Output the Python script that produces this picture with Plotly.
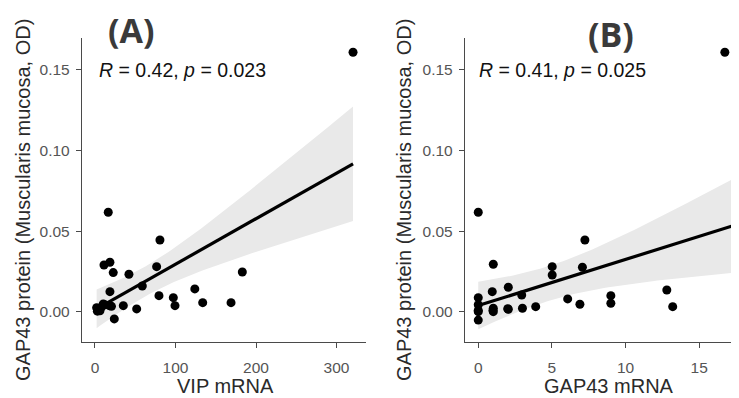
import numpy as np
import plotly.graph_objects as go

# ---- data ----
vip_mrna = [16.5, 80.7, 11.2, 18.6, 22.7, 42.2, 76.6, 183.0, 18.6, 58.8, 124.0, 79.5, 97.3,
            99.4, 133.8, 169.0, 35.2, 51.8, 24.0, 2.1, 6.2, 10.3, 17.8, 320.5,
            4.0, 12.0, 20.5, 8.0, 3.0]
gap43_protein_a = [0.0618, 0.0446, 0.0291, 0.0308, 0.0244, 0.0234, 0.0281, 0.0248, 0.0126, 0.0161,
                   0.0143, 0.0101, 0.0089, 0.0039, 0.0058, 0.0058, 0.0039, 0.0019, -0.0043, 0.0027,
                   0.0008, 0.0050, 0.0039, 0.161,
                   0.0015, 0.0045, 0.0035, 0.0030, 0.0005]

gap43_mrna = [0.0, 7.24, 1.02, 5.02, 5.02, 7.07, 0.95, 2.04, 2.95, 0.0, 6.07, 9.0, 9.0, 12.8,
              13.2, 6.9, 3.9, 3.0, 2.04, 1.02, 1.02, 0.0, 0.0, 0.0, 17.47, 16.74,
              1.0, 0.0, 2.0]
gap43_protein_b = [0.0618, 0.0446, 0.0296, 0.0281, 0.0229, 0.0277, 0.0126, 0.0153, 0.0105, 0.0089,
                   0.0081, 0.0101, 0.0054, 0.0136, 0.0033, 0.0048, 0.0033, 0.0023, 0.0017, 0.0023,
                   0.0002, 0.0002, -0.005, 0.0045, 0.0244, 0.161,
                   0.0010, 0.0010, 0.0020]

label_a = "<i>R</i> = 0.42, <i>p</i> = 0.023"
label_b = "<i>R</i> = 0.41, <i>p</i> = 0.025"
panel_a = "(A)"
panel_b = "(B)"
xtitle_a = "VIP mRNA"
xtitle_b = "GAP43 mRNA"
ytitle = "GAP43 protein (Muscularis mucosa, OD)"
xticks_a = [0, 100, 200, 300]
xticks_b = [0, 5, 10, 15]
yticks = [0.0, 0.05, 0.10, 0.15]


def t_quant(df):
    z = 1.959964
    return z + (z**3 + z) / (4 * df) + (5 * z**5 + 16 * z**3 + 3 * z) / (96 * df**2)


def lm_band(x, y, xmin, xmax):
    x = np.asarray(x, float)
    y = np.asarray(y, float)
    n = len(x)
    b1, b0 = np.polyfit(x, y, 1)
    res = y - (b0 + b1 * x)
    s = np.sqrt(np.sum(res**2) / (n - 2))
    xs = np.linspace(xmin, xmax, 80)
    fit = b0 + b1 * xs
    se = s * np.sqrt(1 / n + (xs - x.mean())**2 / np.sum((x - x.mean())**2))
    t = t_quant(n - 2)
    return xs, fit, fit - t * se, fit + t * se


# the page body has an 8px margin; lay out in page pixels and convert
OFF = 8
W, H = 739 - OFF, 398 - OFF


def fx(p):
    return (p - OFF) / W


def fy(p):
    return 1 - (p - OFF) / H


fig = go.Figure()

ribbon = "rgb(233,233,233)"
for xs_data, ys_data, xa, ya in [(vip_mrna, gap43_protein_a, "x", "y"),
                                 (gap43_mrna, gap43_protein_b, "x2", "y2")]:
    xs, fit, lo, hi = lm_band(xs_data, ys_data, min(xs_data), max(xs_data))
    fig.add_trace(go.Scatter(x=np.concatenate([xs, xs[::-1]]), y=np.concatenate([hi, lo[::-1]]),
                             fill="toself", fillcolor=ribbon, line=dict(width=0),
                             mode="lines", hoverinfo="skip", showlegend=False, xaxis=xa, yaxis=ya))
    fig.add_trace(go.Scatter(x=xs_data, y=ys_data, mode="markers",
                             marker=dict(color="black", size=9), showlegend=False,
                             xaxis=xa, yaxis=ya))
    fig.add_trace(go.Scatter(x=xs, y=fit, mode="lines", line=dict(color="black", width=3.2),
                             showlegend=False, xaxis=xa, yaxis=ya))


axis_common = dict(showgrid=False, zeroline=False, showline=True, linecolor="#4a4a4a",
                   linewidth=1.4, ticks="outside", ticklen=5, tickwidth=1.2, tickcolor="#4a4a4a",
                   tickfont=dict(family="Liberation Sans, Arial", size=15.5, color="#555555"))

y_dom = [fy(342), fy(38)]
fig.update_layout(
    width=W, height=H, margin=dict(l=0, r=0, t=0, b=0),
    paper_bgcolor="white", plot_bgcolor="white",
    xaxis=dict(domain=[fx(82), fx(366)], range=[-16.1, 336.6], tickvals=xticks_a,
               anchor="y", ticklabelstandoff=6, **axis_common),
    yaxis=dict(domain=y_dom, range=[-0.0186, 0.1698], tickvals=yticks,
               ticktext=[f"{v:.2f}" for v in yticks], anchor="x", ticklabelstandoff=3,
               **axis_common),
    xaxis2=dict(domain=[fx(465), 1.0], range=[-0.90, 17.70], tickvals=xticks_b,
                anchor="y2", ticklabelstandoff=6, **axis_common),
    yaxis2=dict(domain=y_dom, range=[-0.0186, 0.1698], tickvals=yticks,
                ticktext=[f"{v:.2f}" for v in yticks], anchor="x2", ticklabelstandoff=3,
                **axis_common),
)

ann_font = dict(family="Liberation Sans, Arial", size=19.5, color="#111111")
title_font = dict(family="Liberation Sans, Arial", size=20, color="#2a2a2a")
panel_font = dict(family="Open Sans, Liberation Sans", size=34, color="#3a3a3a")

anns = [
    dict(text=label_a, x=fx(97), y=fy(70), xanchor="left", yanchor="middle", font=ann_font),
    dict(text=label_b, x=fx(477), y=fy(70), xanchor="left", yanchor="middle", font=ann_font),
    dict(text=f"<b>{panel_a}</b>", x=fx(131), y=fy(30), xanchor="center", yanchor="middle",
         font=panel_font, borderpad=0),
    dict(text=f"<b>{panel_b}</b>", x=fx(611), y=fy(34), xanchor="center", yanchor="middle",
         font=panel_font, borderpad=0),
    dict(text=xtitle_a, x=fx(225), y=fy(386), xanchor="center", yanchor="middle",
         font=title_font),
    dict(text=xtitle_b, x=fx(609), y=fy(386), xanchor="center", yanchor="middle",
         font=title_font),
    dict(text=ytitle, x=fx(23), y=fy(200), xanchor="center", yanchor="middle",
         textangle=-90, font=title_font),
    dict(text=ytitle, x=fx(404), y=fy(200), xanchor="center", yanchor="middle",
         textangle=-90, font=title_font),
]
for a in anns:
    a.update(xref="paper", yref="paper", showarrow=False)
fig.update_layout(annotations=anns)

fig.write_html("out.html")
